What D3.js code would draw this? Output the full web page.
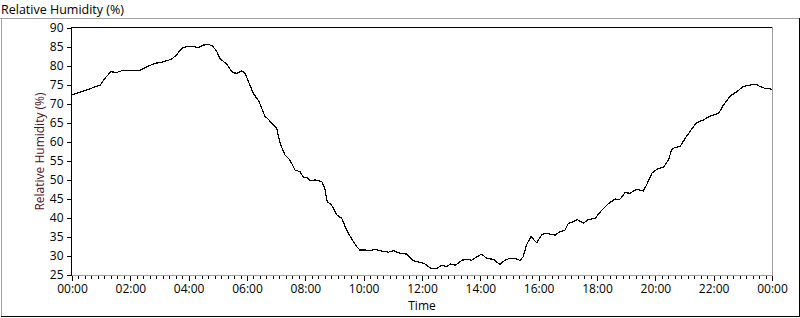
<!DOCTYPE html>
<html>
<head>
<meta charset="utf-8">
<script src="https://cdn.jsdelivr.net/npm/d3@7"></script>
<style>
  html, body { margin: 0; padding: 0; background: #fff; }
  svg { display: block; }
  text { font-family: "Open Sans", "Noto Sans", sans-serif; }
</style>
</head>
<body>
<svg id="chart" width="800" height="318"></svg>
<script>
// ---- data (time in minutes after midnight, relative humidity in %) ----
const times = [0,16,37,58,68,80,92,106,140,154,171,188,205,215,226,236,250,260,270,280,289,298,304,308,318,331,339,349,356,363,373,385,397,404,411,421,428,438,448,459,469,476,483,490,500,514,520,525,534,545,555,565,575,586,592,603,613,623,637,651,661,675,689,702,716,724,733,740,751,761,771,778,788,795,802,812,822,833,843,853,867,880,891,901,911,922,928,935,944,956,966,973,994,1004,1014,1021,1031,1039,1052,1062,1076,1090,1103,1117,1127,1138,1148,1162,1175,1182,1193,1203,1217,1227,1234,1241,1251,1261,1271,1285,1299,1312,1330,1340,1354,1367,1381,1395,1407,1415,1426,1440];
const humidity = [72.4,73.1,74.0,75.0,76.8,78.5,78.3,78.9,78.9,79.8,80.7,81.1,81.8,82.9,84.7,85.1,85.1,84.8,85.5,85.7,85.3,83.8,82.0,81.6,80.5,78.2,78.1,78.7,78.1,75.9,72.8,70.6,66.7,66.0,64.9,63.6,59.7,56.6,55.3,52.6,52.2,50.7,50.7,49.8,50.0,49.6,47.8,44.3,43.4,40.8,39.9,36.8,34.6,32.4,31.6,31.6,31.4,31.8,31.3,31.0,31.4,30.7,30.5,28.8,28.3,28.1,27.2,26.7,26.8,27.6,27.2,27.9,27.6,28.1,28.9,29.1,28.9,29.8,30.5,29.4,29.1,27.8,28.9,29.4,29.4,28.8,29.8,32.9,35.1,33.5,35.5,36.0,35.5,36.4,36.8,38.6,39.0,39.6,38.6,39.6,39.9,42.1,43.7,45.0,44.9,46.7,46.5,47.6,47.1,48.7,51.8,52.8,53.4,55.3,58.1,58.6,58.8,60.9,62.7,65.1,65.8,66.8,67.5,69.7,72.1,73.2,74.6,75.0,75.2,74.6,74.1,73.9];
const xTickValues = [0,120,240,360,480,600,720,840,960,1080,1200,1320,1440];
const xTickLabels = ["00:00","02:00","04:00","06:00","08:00","10:00","12:00","14:00","16:00","18:00","20:00","22:00","00:00"];
const yTickValues = [25,30,35,40,45,50,55,60,65,70,75,80,85,90];
const chartTitle = "Relative Humidity (%)";
const yAxisName = "Relative Humidity (%)";
const xAxisName = "Time";

const points = times.map((t, i) => ({ t, v: humidity[i] }));

const svg = d3.select("#chart");
const L = 72, R = 772, T = 28, B = 275;

const x = d3.scaleLinear().domain([0, 1440]).range([L, R]);
const y = d3.scaleLinear().domain([25, 90]).range([B, T]);

// outer panel frame
svg.append("line").attr("x1", 0).attr("x2", 800).attr("y1", 18.5).attr("y2", 18.5).attr("stroke", "#a0a0a0");
svg.append("line").attr("x1", 1.5).attr("x2", 1.5).attr("y1", 18.5).attr("y2", 317).attr("stroke", "#a0a0a0");
svg.append("line").attr("x1", 1).attr("x2", 800).attr("y1", 316.5).attr("y2", 316.5).attr("stroke", "#000");
svg.append("line").attr("x1", 799.5).attr("x2", 799.5).attr("y1", 18).attr("y2", 317).attr("stroke", "#000");

// title
svg.append("text").attr("x", 1).attr("y", 14).attr("font-size", 12.5).attr("fill", "#000").text(chartTitle);

// x axis minor ticks
const minorVals = d3.range(0, 1440 + 0.001, 120 / 9).filter(v => !xTickValues.some(m => Math.abs(m - v) < 0.01));
svg.append("g").attr("transform", `translate(0,${B + 1})`)
  .call(d3.axisBottom(x).tickValues(minorVals).tickSize(3).tickFormat(""))
  .call(g => g.select(".domain").remove())
  .call(g => g.selectAll("line").attr("stroke", "#000").attr("shape-rendering", "crispEdges"));

// x axis major ticks
svg.append("g").attr("transform", `translate(0,${B + 0.5})`)
  .call(d3.axisBottom(x).tickValues(xTickValues).tickSize(5).tickPadding(4)
        .tickFormat((d, i) => xTickLabels[i]))
  .call(g => g.select(".domain").remove())
  .call(g => g.selectAll("line").attr("stroke", "#000").attr("shape-rendering", "crispEdges"))
  .call(g => g.selectAll("text").attr("font-size", 12).attr("fill", "#000").attr("font-family", "'Open Sans', sans-serif"));

// y axis
svg.append("g").attr("transform", `translate(${L - 0.5},0)`)
  .call(d3.axisLeft(y).tickValues(yTickValues).tickSize(5).tickPadding(3))
  .call(g => g.select(".domain").remove())
  .call(g => g.selectAll("line").attr("stroke", "#000").attr("shape-rendering", "crispEdges"))
  .call(g => g.selectAll("text").attr("font-size", 12).attr("fill", "#000").attr("font-family", "'Open Sans', sans-serif"));

// plot frame: top/left black, right/bottom gray
svg.append("line").attr("x1", L - 0.5).attr("x2", R).attr("y1", T - 0.5).attr("y2", T - 0.5).attr("stroke", "#000");
svg.append("line").attr("x1", L - 0.5).attr("x2", L - 0.5).attr("y1", T - 1).attr("y2", B + 1).attr("stroke", "#000");
svg.append("line").attr("x1", R + 0.5).attr("x2", R + 0.5).attr("y1", T - 1).attr("y2", B + 1).attr("stroke", "#a0a0a0");
svg.append("line").attr("x1", L).attr("x2", R + 1).attr("y1", B + 0.5).attr("y2", B + 0.5).attr("stroke", "#a0a0a0");

// data line
svg.append("path").datum(points)
  .attr("fill", "none").attr("stroke", "#000").attr("stroke-width", 1.2)
  .attr("shape-rendering", "crispEdges")
  .attr("d", d3.line().x(d => x(d.t)).y(d => y(d.v)));

// axis names
svg.append("text").attr("x", (L + R) / 2).attr("y", 310).attr("text-anchor", "middle")
  .attr("font-size", 12).attr("fill", "#000").text(xAxisName);
svg.append("text").attr("transform", `translate(44,${(T + B) / 2}) rotate(-90)`).attr("text-anchor", "middle")
  .attr("font-size", 12).attr("fill", "#52101c").text(yAxisName);
</script>
</body>
</html>
